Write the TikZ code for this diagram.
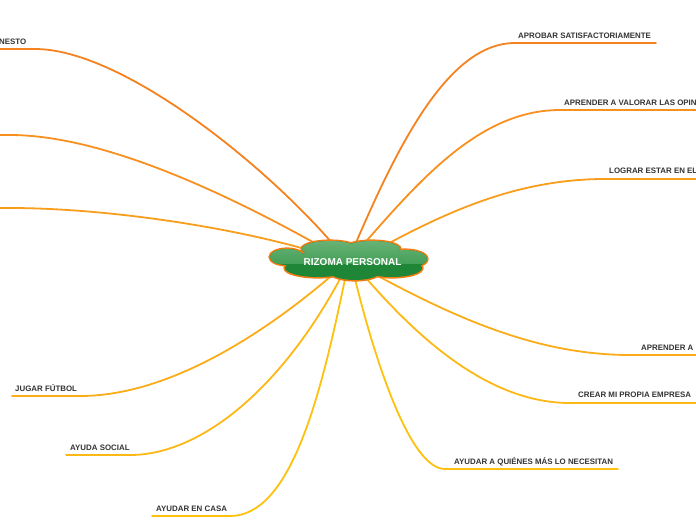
\documentclass[tikz,border=0pt]{standalone}
\usepackage{fontspec}
\setmainfont{Liberation Sans}
\definecolor{o1}{HTML}{F5821F}
\definecolor{o2}{HTML}{F7901E}
\definecolor{o3}{HTML}{F99D1C}
\definecolor{o4}{HTML}{FBAC18}
\definecolor{o5}{HTML}{FCB814}
\definecolor{o6}{HTML}{FDC20F}
\definecolor{txt}{HTML}{333333}
\definecolor{gdark}{HTML}{1E8636}
\definecolor{glt}{HTML}{6DB479}
\definecolor{glm}{HTML}{45A058}
\definecolor{cloudline}{HTML}{F07D14}
\tikzset{
  lbl/.style={font=\bfseries\fontsize{7.9}{9}\selectfont, text=txt, inner sep=0pt, anchor=base west},
  br/.style={line width=1.8pt, line cap=round},
}
\newcommand{\cloudshape}{%
  (287,257) ellipse [x radius=17, y radius=8]
  (330,249) ellipse [x radius=28, y radius=8]
  (372,249) ellipse [x radius=28, y radius=8]
  (405,259) ellipse [x radius=22, y radius=9]
  (318,268) ellipse [x radius=33, y radius=9]
  (355,272) ellipse [x radius=25, y radius=8]
  (392,268) ellipse [x radius=30, y radius=9]
  (350,260) ellipse [x radius=58, y radius=11]}
\begin{document}
\begin{tikzpicture}[x=1pt,y=-1pt]
\useasboundingbox (0,0) rectangle (696,520);
\clip (0,0) rectangle (696,520);
% start points near cloud
\coordinate (s1) at (355,245);
\coordinate (s2) at (362,246);
\coordinate (s3) at (380,248);
\coordinate (s4) at (378,276);
\coordinate (s5) at (366,278);
\coordinate (s6) at (355,279);
\coordinate (s7) at (333,244);
\coordinate (s8) at (320,246);
\coordinate (s9) at (305,249);
\coordinate (s10) at (330,277);
\coordinate (s11) at (340,279);
\coordinate (s12) at (345,279);
% underline ends
\coordinate (a1) at (515,43);  \coordinate (b1) at (656,43);
\coordinate (a2) at (560,110); \coordinate (b2) at (700,110);
\coordinate (a3) at (605,179); \coordinate (b3) at (700,179);
\coordinate (a4) at (630,355); \coordinate (b4) at (700,355);
\coordinate (a5) at (570,403); \coordinate (b5) at (696,403);
\coordinate (a6) at (445,469); \coordinate (b6) at (618,469);
\coordinate (a7) at (35,49);   \coordinate (b7) at (-5,49);
\coordinate (a8) at (10,135);  \coordinate (b8) at (-5,135);
\coordinate (a9) at (10,208);  \coordinate (b9) at (-5,208);
\coordinate (a10) at (80,396); \coordinate (b10) at (12,396);
\coordinate (a11) at (130,455); \coordinate (b11) at (66,455);
\coordinate (a12) at (230,516); \coordinate (b12) at (152,516);
% branches
\draw[br,o1] (s1) .. controls (400,140) and (450,43) .. (a1) -- (b1);
\draw[br,o2] (s2) .. controls (420,180) and (480,110) .. (a2) -- (b2);
\draw[br,o3] (s3) .. controls (450,210) and (520,179) .. (a3) -- (b3);
\draw[br,o4] (s4) .. controls (460,320) and (540,355) .. (a4) -- (b4);
\draw[br,o5] (s5) .. controls (420,340) and (490,403) .. (a5) -- (b5);
\draw[br,o6] (s6) .. controls (375,360) and (410,469) .. (a6) -- (b6);
\draw[br,o1] (s7) .. controls (260,160) and (120,49) .. (a7) -- (b7);
\draw[br,o2] (s8) .. controls (220,190) and (100,135) .. (a8) -- (b8);
\draw[br,o3] (s9) .. controls (220,225) and (100,208) .. (a9) -- (b9);
\draw[br,o4] (s10) .. controls (250,345) and (160,396) .. (a10) -- (b10);
\draw[br,o5] (s11) .. controls (280,390) and (200,455) .. (a11) -- (b11);
\draw[br,o6] (s12) .. controls (320,400) and (290,516) .. (a12) -- (b12);
% labels
\node[lbl] (t1) at (518,38) {APROBAR SATISFACTORIAMENTE};
\node[lbl] (t2) at (564,105) {APRENDER A VALORAR LAS OPIN};
\node[lbl] (t3) at (609,173) {LOGRAR ESTAR EN EL};
\node[lbl] (t4) at (641,350) {APRENDER A};
\node[lbl] (t5) at (578,397) {CREAR MI PROPIA EMPRESA};
\node[lbl] (t6) at (454,464) {AYUDAR A QUIÉNES MÁS LO NECESITAN};
\node[lbl] (t7) at (-1,44) {NESTO};
\node[lbl] (t10) at (15,391) {JUGAR FÚTBOL};
\node[lbl] (t11) at (70,450) {AYUDA SOCIAL};
\node[lbl] (t12) at (156,511) {AYUDAR EN CASA};
% cloud
\draw[cloudline, line width=3.2pt] \cloudshape;
\fill[gdark] \cloudshape;
\begin{scope}
  \clip \cloudshape;
  \shade[top color=glt, bottom color=glm] (265,238) rectangle (432,263);
\end{scope}
\node[font=\bfseries\fontsize{10}{11}\selectfont, text=white, inner sep=0pt] (c) at (352.5,262) {RIZOMA PERSONAL};
\end{tikzpicture}
\end{document}
